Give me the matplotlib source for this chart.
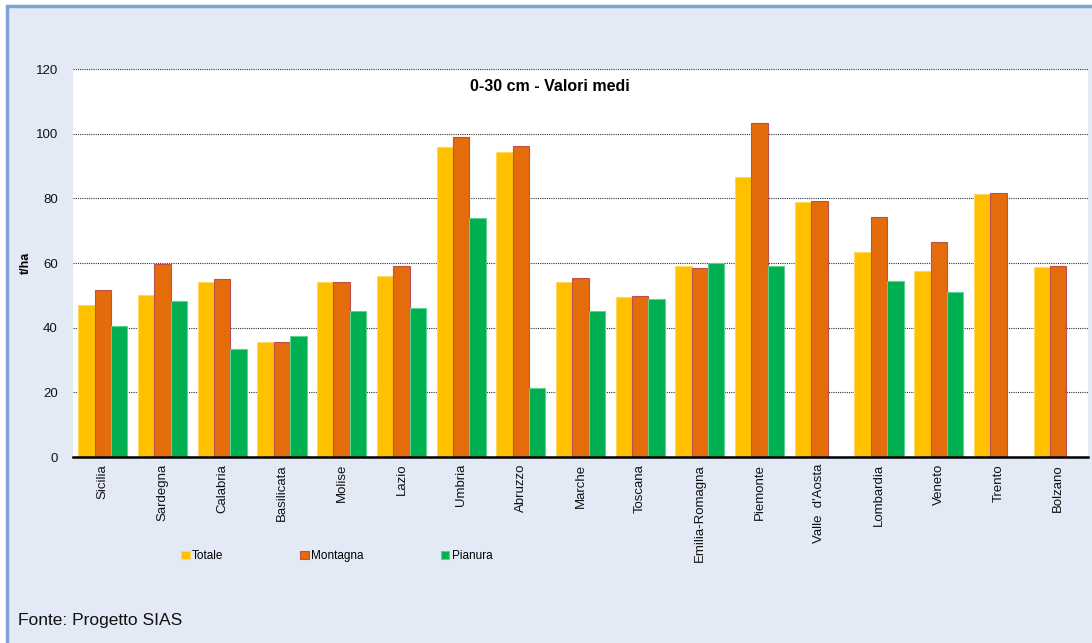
import matplotlib.pyplot as plt
import numpy as np
from matplotlib.patches import Rectangle

plt.rcParams['font.family'] = ['Liberation Sans', 'DejaVu Sans']

# stock medio di carbonio organico 0-30 cm per regione (t/ha)
regioni = ["Sicilia", "Sardegna", "Calabria", "Basilicata", "Molise", "Lazio",
           "Umbria", "Abruzzo", "Marche", "Toscana", "Emilia-Romagna", "Piemonte",
           "Valle  d'Aosta", "Lombardia", "Veneto", "Trento", "Bolzano"]
totale = [46.9, 50.0, 54.0, 35.5, 54.0, 55.9, 95.9, 94.3, 54.1, 49.6, 59.0, 86.6,
          79.0, 63.5, 57.4, 81.4, 58.9]
montagna = [51.6, 59.6, 55.0, 35.5, 54.2, 59.0, 99.0, 96.3, 55.4, 49.8, 58.4, 103.4,
            79.2, 74.1, 66.4, 81.7, 59.1]
# nessun dato di pianura per Valle d'Aosta, Trento e Bolzano
pianura = [40.5, 48.1, 33.5, 37.3, 45.3, 46.0, 73.9, 21.3, 45.3, 49.0, 59.9, 59.1,
           np.nan, 54.3, 50.9, np.nan, np.nan]

serie = ["Totale", "Montagna", "Pianura"]
colori = ["#FFC000", "#E46C0A", "#00B050"]
bordi = ["#FFD966", "#C0504D", "#5FD08E"]

fig = plt.figure(figsize=(10.92, 6.43), dpi=100, facecolor="white")
# cornice azzurra del riquadro, sotto gli assi
fig.patches.append(Rectangle((7 / 1092, -0.05), 1.1, 1 - 6 / 643 + 0.05,
                             transform=fig.transFigure, facecolor="#E3EAF6",
                             edgecolor="#7EA2D6", linewidth=2.5, zorder=-1))

ax = fig.add_axes([73 / 1092, 1 - 457 / 643, (1088 - 73) / 1092, (457 - 69) / 643])
ax.set_zorder(1)
ax.set_facecolor("white")

x = np.arange(len(regioni))
w = 0.274
for i, (vals, nome) in enumerate(zip([totale, montagna, pianura], serie)):
    ax.bar(x + (i - 1) * w, vals, width=w, color=colori[i], edgecolor=bordi[i],
           linewidth=0.8, label=nome, zorder=2)

ax.set_xlim(-0.5, len(regioni) - 0.5)
ax.set_ylim(0, 120)
ax.set_yticks(range(0, 121, 20))
ax.yaxis.grid(True, linestyle=(0, (1, 1)), color="#333333", linewidth=0.8, zorder=0)
ax.set_axisbelow(True)
for s in ["top", "right", "left"]:
    ax.spines[s].set_visible(False)
ax.spines["bottom"].set_linewidth(1.8)
ax.spines["bottom"].set_color("black")
ax.spines["bottom"].set_zorder(3)
ax.tick_params(axis="both", length=0, labelsize=9.5, labelcolor="#111111")
ax.tick_params(axis="y", pad=11)
ax.tick_params(axis="x", pad=5)
ax.set_xticks(x)
ax.set_xticklabels(regioni, rotation=90, va="top")

ax.set_ylabel("t/ha", fontsize=9, fontweight="bold")
ax.yaxis.set_label_coords(-0.041, 0.5)
ax.text(0.47, 0.955, "0-30 cm - Valori medi", transform=ax.transAxes,
        ha="center", va="center", fontsize=11.5, fontweight="bold")

fig.legend(loc="center left", bbox_to_anchor=(176 / 1092, 1 - 556 / 643), ncol=3,
           frameon=False, fontsize=8.5, handlelength=0.75, handleheight=0.75,
           handletextpad=0.2, columnspacing=6.5, borderaxespad=0)

fig.text(18 / 1092, 1 - 621 / 643, "Fonte: Progetto SIAS", fontsize=12.5,
         va="center", ha="left", color="#111111")

fig.savefig("out.png", dpi=100, facecolor=fig.get_facecolor())
